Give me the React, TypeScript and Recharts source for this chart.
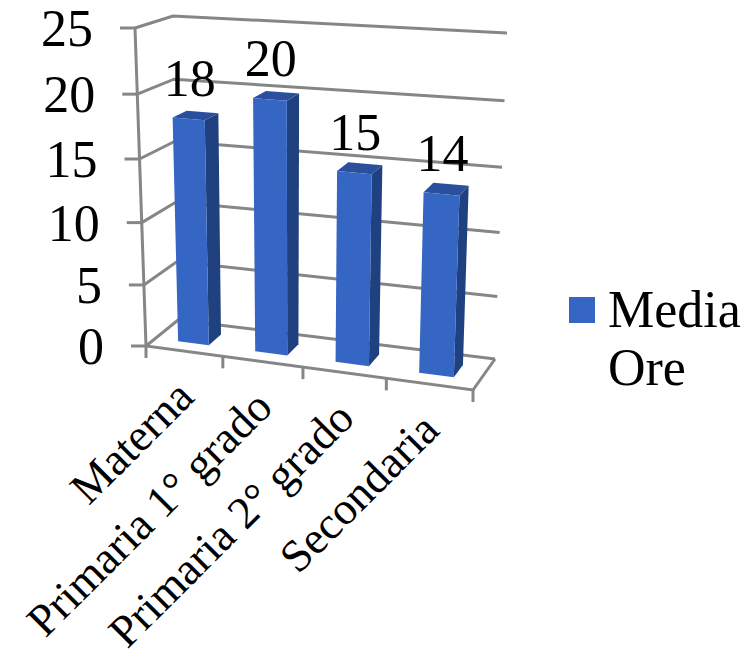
import React from 'react';
import { Bar, BarChart, CartesianGrid, Legend, XAxis, YAxis } from 'recharts';

const categories = ['Materna', 'Primaria 1° grado', 'Primaria 2° grado', 'Secondaria'];
const mediaOre = [18, 20, 15, 14];
const yTicks = [0, 5, 10, 15, 20, 25];
const seriesName = 'Media Ore';

const data = categories.map((name, i) => ({ name, ore: mediaOre[i] }));

const W = 746;
const H = 657;
// plot rect the library scales map onto, this is the front plane of the 3D box
const LEFT = 146;
const RIGHT = 473;
const TOP = 28;
const BOTTOM = 346;

const FONT = '"Liberation Serif", serif';
const BLUE = '#3566c4';
const SIDE = '#20417f';
const CAP = '#2a4f9c';
const GRID = '#868686';

// corners of the box as drawn: front plane then back plane
const box = {
  front: { bl: [146, 346], tl: [135, 28], br: [473, 390], tr: [485, 54] },
  back: { bl: [178, 320], tl: [173, 16], br: [495, 359], tr: [507, 33] },
};

const lerp = (a: number, b: number, t: number) => a + (b - a) * t;

// chart coords + depth (0 front, 1 back) -> picture coords
function project(px: number, py: number, depth = 0): [number, number] {
  const rawU = (px - LEFT) / (RIGHT - LEFT);
  const rawT = (BOTTOM - py) / (BOTTOM - TOP);
  // slight foreshortening, the box is in perspective
  const u = rawU - 0.08 * rawU * (1 - rawU);
  const t = rawT - 0.05 * rawT * (1 - rawT);
  const out = [0, 1].map((k) => {
    const f = lerp(lerp(box.front.bl[k], box.front.br[k], u), lerp(box.front.tl[k], box.front.tr[k], u), t);
    const b = lerp(lerp(box.back.bl[k], box.back.br[k], u), lerp(box.back.tl[k], box.back.tr[k], u), t);
    return lerp(f, b, depth);
  });
  return [out[0], out[1]];
}

const pts = (list: [number, number][]) => list.map((p) => p.join(',')).join(' ');

const D0 = 0.3;
const D1 = 0.7;

function Bar3D(props: any) {
  const { x, y, width, height, fill } = props;
  const x2 = x + width;
  const y2 = y + height;
  return (
    <g>
      <polygon
        points={pts([project(x2, y, D0), project(x2, y, D1), project(x2, y2, D1), project(x2, y2, D0)])}
        fill={SIDE}
      />
      <polygon
        points={pts([project(x, y, D0), project(x, y, D1), project(x2, y, D1), project(x2, y, D0)])}
        fill={CAP}
      />
      <polygon
        points={pts([project(x, y, D0), project(x2, y, D0), project(x2, y2, D0), project(x, y2, D0)])}
        fill={fill}
      />
    </g>
  );
}

function BarValue(props: any) {
  const { x, y, width, value } = props;
  const [cx, cy] = project(x + width / 2, y, D0);
  return (
    <text x={cx + 1} y={cy - 23} textAnchor="middle" fontFamily={FONT} fontSize={52} fill="#000">
      {value}
    </text>
  );
}

function GridLine(props: any) {
  const { x1, x2, y1, index } = props;
  const a = project(x1, y1, 0);
  const b = project(x1, y1, 1);
  const c = project(x2, y1, 1);
  const isFloor = Math.abs(y1 - BOTTOM) < 0.5;
  return (
    <g key={index} fill="none" stroke={GRID} strokeWidth={3}>
      <polyline points={pts([a, b, c])} />
      {isFloor && (
        <polyline
          points={pts([project(x1, TOP, 0), a, project(x2, BOTTOM, 0), c])}
        />
      )}
    </g>
  );
}

function YTick(props: any) {
  const { y, payload } = props;
  const [fx, fy] = project(LEFT, y, 0);
  return (
    <g>
      <line x1={fx - 15} y1={fy} x2={fx} y2={fy} stroke={GRID} strokeWidth={3} />
      <text x={fx - 42} y={fy + 18} textAnchor="end" fontFamily={FONT} fontSize={52} fill="#000">
        {payload.value}
      </text>
    </g>
  );
}

function XTick(props: any) {
  const { x, payload, index } = props;
  const band = (RIGHT - LEFT) / categories.length;
  const [tx, ty] = project(x + band / 2, BOTTOM, 0);
  const [lx, ly] = project(x, BOTTOM, 0);
  return (
    <g>
      <line x1={tx} y1={ty} x2={tx} y2={ty + 12} stroke={GRID} strokeWidth={3} />
      {index === 0 && <line x1={LEFT} y1={BOTTOM} x2={LEFT} y2={BOTTOM + 12} stroke={GRID} strokeWidth={3} />}
      <text
        x={lx + 12}
        y={ly + 48}
        textAnchor="end"
        transform={`rotate(-45 ${lx + 12} ${ly + 48})`}
        fontFamily={FONT}
        fontSize={45.5}
        fill="#000"
      >
        {payload.value}
      </text>
    </g>
  );
}

function LegendBox(props: any) {
  const item = props.payload?.[0];
  if (!item) return null;
  return (
    <div style={{ display: 'flex', alignItems: 'flex-start', fontFamily: FONT, fontSize: 52, lineHeight: '58px' }}>
      <span style={{ width: 26, height: 26, marginTop: 16, marginRight: 13, background: item.color, flex: 'none' }} />
      <span style={{ width: 139, color: '#000' }}>{item.value}</span>
    </div>
  );
}

export default function App() {
  return (
    <div style={{ position: 'absolute', left: 0, top: 0, width: W, height: H, background: '#fff' }}>
      <BarChart
        width={W}
        height={H}
        data={data}
        barCategoryGap="30%"
        margin={{ left: LEFT - 1, right: W - RIGHT, top: TOP, bottom: H - BOTTOM - 1 }}
      >
        <CartesianGrid horizontal={GridLine as any} vertical={false} />
        <XAxis dataKey="name" height={1} axisLine={false} tickLine={false} interval={0} tick={XTick as any} />
        <YAxis width={1} domain={[0, 25]} ticks={yTicks} axisLine={false} tickLine={false} tick={YTick as any} />
        <Legend
          layout="vertical"
          align="center"
          verticalAlign="middle"
          content={LegendBox as any}
          wrapperStyle={{ left: 569, top: 281, width: 177 }}
        />
        <Bar
          dataKey="ore"
          name={seriesName}
          fill={BLUE}
          isAnimationActive={false}
          shape={Bar3D as any}
          label={BarValue as any}
        />
      </BarChart>
    </div>
  );
}
